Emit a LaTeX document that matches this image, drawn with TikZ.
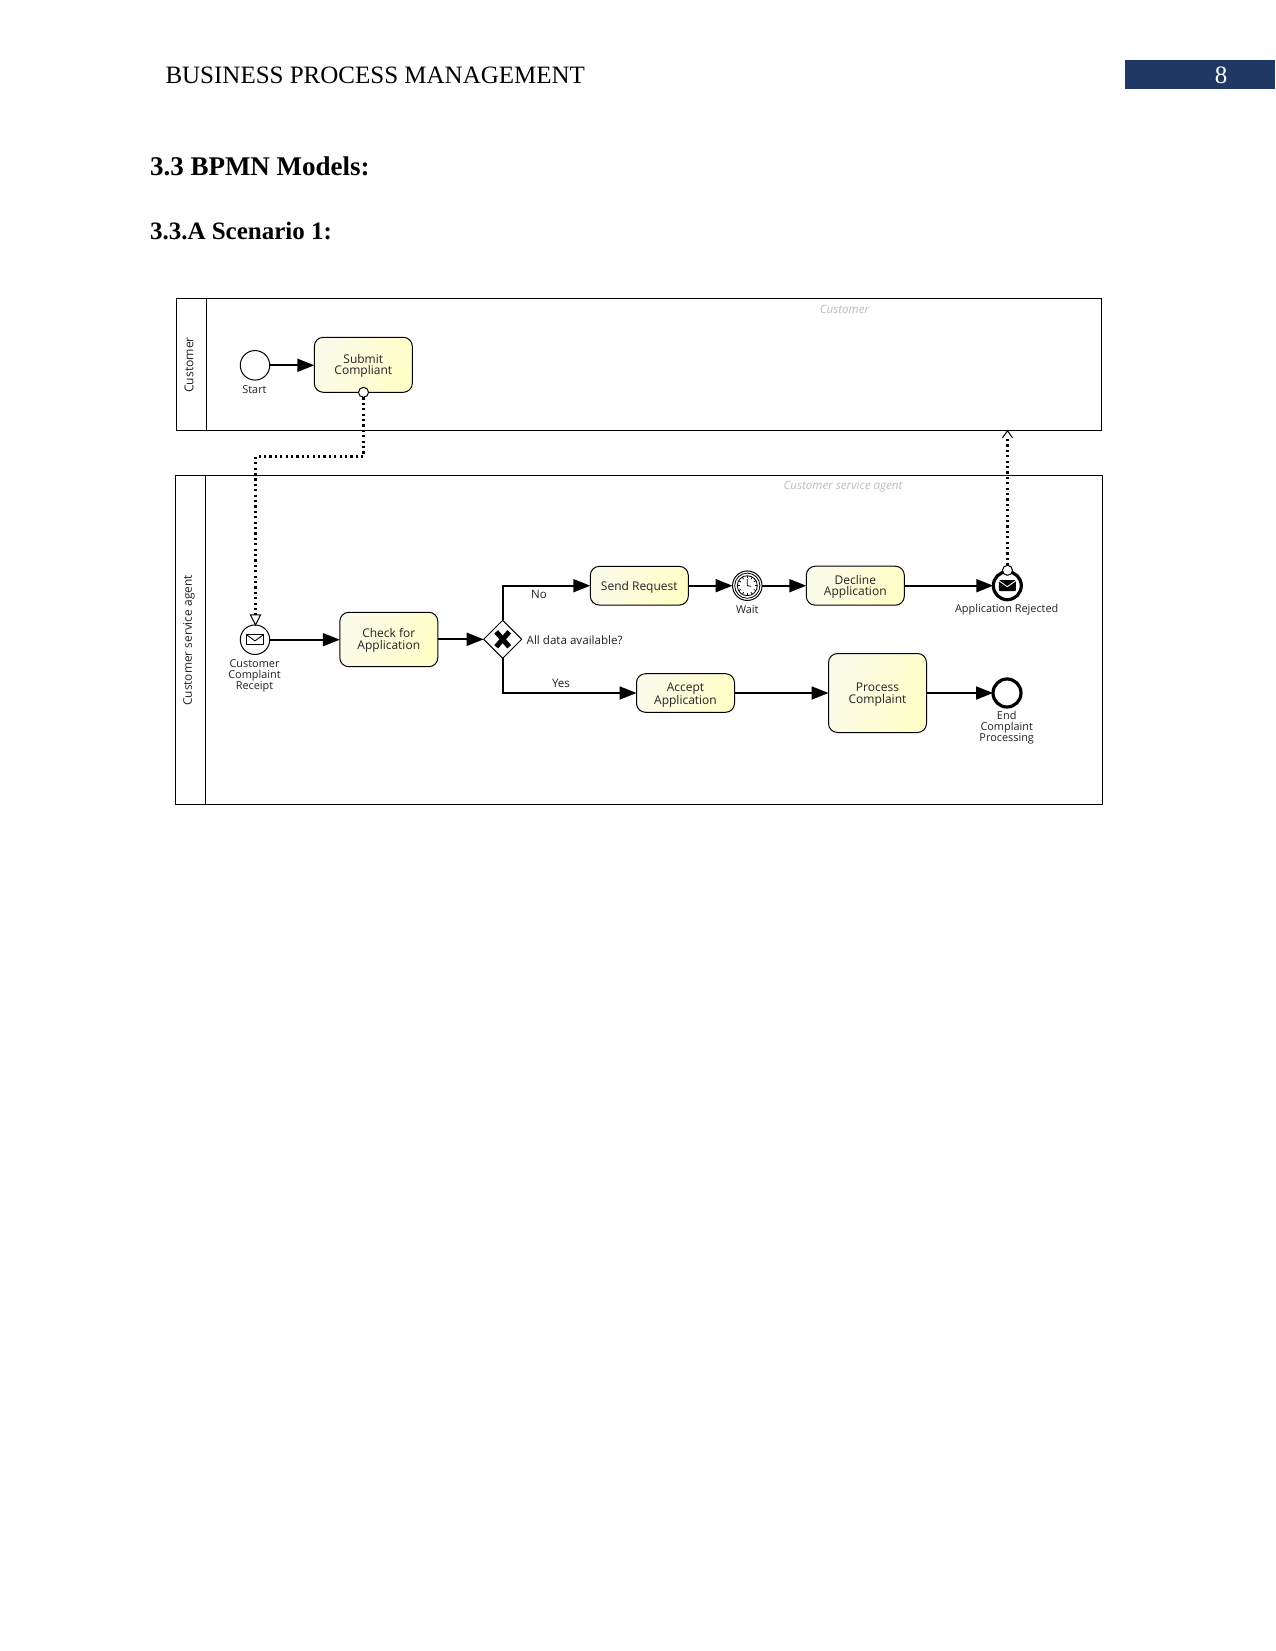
\documentclass[tikz,border=0pt]{standalone}
\usepackage{fontspec}
\setmainfont{Liberation Serif}
\newfontfamily\diagramfont{Open Sans}
\usetikzlibrary{arrows.meta,shapes.geometric,calc}
\definecolor{barblue}{HTML}{1F3864}
\definecolor{taskpale}{HTML}{FBFBEA}
\definecolor{taskyellow}{HTML}{FFFFC8}
\definecolor{inklabel}{HTML}{222222}
\definecolor{watermark}{HTML}{BDBDBD}
% task caption, set a given distance below the centre of its box
\newcommand{\taskcaption}[2]{\raisebox{-#1}[\height][\depth]{\parbox{92pt}{\centering #2}}}
\tikzset{
  x=1pt, y=-1pt,
  every node/.style={inner sep=0pt, outer sep=0pt},
  pagehead/.style={anchor=base west, text=black},
  pool/.style={draw=black, line width=1.1pt, rectangle},
  lanetext/.style={rotate=90, font=\diagramfont\fontsize{12.2}{13}\selectfont, text=inklabel},
  poolcaption/.style={font=\diagramfont\itshape\fontsize{11.6}{13}\selectfont, text=watermark},
  taskbox/.style={draw=black, line width=1pt, rectangle, rounded corners=9pt,
    left color=taskpale, right color=taskyellow, shading angle=70,
    minimum width=98pt, align=center, text=inklabel,
    font=\diagramfont\fontsize{12}{11.6}\selectfont},
  evt/.style={circle, draw=black, fill=white, line width=1pt, minimum size=29.5pt},
  endevt/.style={circle, draw=black, fill=white, line width=3.2pt, minimum size=28pt},
  port/.style={circle, draw=black, fill=white, line width=1pt, minimum size=10pt},
  gate/.style={diamond, draw=black, fill=white, line width=1pt, minimum width=38pt, minimum height=38pt},
  evlabel/.style={align=center, text=inklabel, font=\diagramfont\fontsize{10.9}{11}\selectfont},
  flowlabel/.style={text=inklabel, font=\diagramfont\fontsize{11.6}{12}\selectfont},
  seqflow/.style={draw=black, line width=1.8pt, -{Triangle[length=17pt,width=13pt]}},
  msgflow/.style={draw=black, line width=2.2pt, dash pattern=on 2.2pt off 3.2pt},
  pics/mailicon/.style={code={
    \draw[line width=0.9pt, line join=round] (-8.5,-5) rectangle (8.5,5);
    \draw[line width=0.9pt, line join=round] (-8.5,-5) -- (0,1.2) -- (8.5,-5);
  }},
  pics/mailsolid/.style={code={
    \fill[black, rounded corners=1pt] (-8.5,-5.5) rectangle (8.5,5.5);
    \draw[white, line width=0.9pt] (-8.5,-5) -- (0,1) -- (8.5,-5);
  }},
}
\begin{document}
\begin{tikzpicture}
\useasboundingbox (0,0) rectangle (1275,1651);
\fill[white] (0,0) rectangle (1275,1651);

% running head and section titles
\node[pagehead, font=\fontsize{25}{28}\selectfont] (runhead) at (165.5,83.5) {BUSINESS PROCESS MANAGEMENT};
\node[pagehead, font=\bfseries\fontsize{27}{30}\selectfont] (sec) at (150,175.5) {3.3 BPMN Models:};
\node[pagehead, font=\bfseries\fontsize{25}{28}\selectfont] (subsec) at (150,239) {3.3.A Scenario 1:};
\node[rectangle, fill=barblue, minimum width=150pt, minimum height=29pt, anchor=north west] (pagebar) at (1125,60.5) {};
\node[text=white, font=\fontsize{25}{28}\selectfont] (pageno) at (1221,75.5) {8};

% pools
\node[pool, minimum width=925.2pt, minimum height=132.5pt, anchor=north west] (custpool) at (176.5,298.3) {};
\draw[line width=1.1pt] (206.3,298.3) -- (206.3,430.8);
\node[lanetext] (custname) at (189,365) {Customer};
\node[poolcaption] (custcap) at (844.5,309.5) {Customer};

\node[pool, minimum width=927pt, minimum height=328.6pt, anchor=north west] (agentpool) at (175.7,475.7) {};
\draw[line width=1.1pt] (205.3,475.7) -- (205.3,804.3);
\node[lanetext, font=\diagramfont\fontsize{11.9}{13}\selectfont] (agentname) at (189,640.5) {Customer service agent};
\node[poolcaption] (agentcap) at (843,486.5) {Customer service agent};

% customer lane
\node[evt] (start) at (255,365.3) {};
\node[evlabel] (startlbl) at (254.5,389.5) {Start};
\node[taskbox, minimum height=55pt] (submit) at (363.3,364.8) {\taskcaption{1pt}{Submit\\Compliant}};
\node[port] (submitport) at (363.5,392.3) {};

% agent lane
\node[evt] (receipt) at (255,639.7) {};
\pic at (receipt.center) {mailicon};
\node[evlabel] (receiptlbl) at (254.5,675.5) {Customer\\Complaint\\Receipt};
\node[taskbox, minimum height=54.4pt] (check) at (388.8,639.5) {\taskcaption{1pt}{Check for\\Application}};
\node[gate] (xor) at (502.7,639.3) {};
\draw[line width=5pt] ($(xor.center)+(-6.5,-7.5)$) -- ($(xor.center)+(6.5,7.5)$);
\draw[line width=5pt] ($(xor.center)+(6.5,-7.5)$) -- ($(xor.center)+(-6.5,7.5)$);
\node[flowlabel, anchor=west] (xorlbl) at (526.7,639.8) {All data available?};
\node[flowlabel] (nolbl) at (539,594.5) {No};
\node[flowlabel] (yeslbl) at (561,683.5) {Yes};

\node[taskbox, minimum height=38.7pt] (send) at (639.3,585.7) {\taskcaption{2pt}{Send Request}};
\node[evt] (timer) at (747.3,585.7) {};
\begin{scope}[shift={(timer.center)}]
  \draw[line width=0.8pt] (0,0) circle (12.6);
  \draw[line width=0.8pt] (0,0) circle (10);
  \foreach \a in {0,30,...,330} \draw[line width=0.7pt] (\a:7.4) -- (\a:10);
  \draw[line width=0.8pt] (0,-6.5) -- (0,0) -- (3.8,0.6);
\end{scope}
\node[evlabel] (timerlbl) at (747.3,609.5) {Wait};
\node[taskbox, minimum height=39pt] (decline) at (855.3,585.7) {\taskcaption{1pt}{Decline\\Application}};
\node[endevt] (rejected) at (1007.3,585.7) {};
\pic at (rejected.center) {mailsolid};
\node[port] (rejport) at (1007.5,570.3) {};
\node[evlabel] (rejlbl) at (1006.7,609.8) {Application Rejected};

\node[taskbox, minimum height=38.6pt] (accept) at (685.5,693) {\taskcaption{2pt}{Accept\\Application}};
\node[taskbox, minimum height=79pt] (process) at (877.5,693) {\taskcaption{1.5pt}{Process\\Complaint}};
\node[endevt] (finish) at (1007,693) {};
\node[evlabel] (finishlbl) at (1006.7,727.5) {End\\Complaint\\Processing};

% sequence flows
\draw[seqflow] (start.east) -- (submit.west |- start.east);
\draw[seqflow] (receipt.east) -- (check.west |- receipt.east);
\draw[seqflow] (check.east |- xor.west) -- (xor.west);
\draw[seqflow] (xor.north) |- (send.west);
\draw[seqflow] (send.east) -- (timer.west);
\draw[seqflow] (timer.east) -- (decline.west);
\draw[seqflow] (decline.east) -- (rejected.west);
\draw[seqflow] (xor.south) |- (accept.west);
\draw[seqflow] (accept.east) -- (process.west);
\draw[seqflow] (process.east) -- (finish.west);

% message flows
\coordinate (msgbend) at (255.5,456.5);
\draw[msgflow] (submitport.south) |- (msgbend) -- ($(receipt.north)+(0.5,-10)$);
\draw[draw=black, fill=white, line width=1pt, line join=miter]
  ($(receipt.north)+(0.5,0)$) -- ++(-5,-10) -- ++(10,0) -- cycle;
\coordinate (rejtip) at (rejport.north |- custpool.south);
\draw[msgflow] (rejport.north) -- ($(rejtip)+(0,6)$);
\draw[line width=1pt, line join=miter] ($(rejtip)+(-5,7)$) -- (rejtip) -- ($(rejtip)+(5,7)$);
\end{tikzpicture}
\end{document}
